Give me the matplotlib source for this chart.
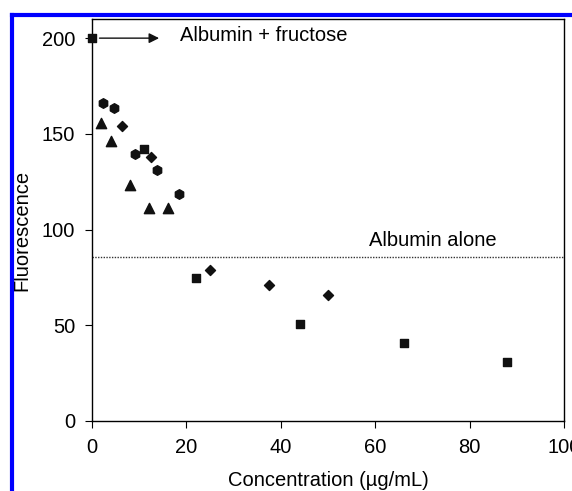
import matplotlib
matplotlib.use("Agg")
import matplotlib.pyplot as plt
from matplotlib.lines import Line2D

plt.rcParams['font.family'] = ['Liberation Sans', 'DejaVu Sans']

# fluorescence vs concentration, four sample series
sq_x = [0, 11, 22, 44, 66, 88]
sq_y = [200, 142, 74.6, 50.7, 40.9, 31.0]
dm_x = [6.25, 12.5, 25, 37.5, 50]
dm_y = [154, 137.7, 78.8, 70.9, 66.0]
ci_x = [2.3, 4.6, 9.2, 13.8, 18.4]
ci_y = [165.9, 163.7, 139.3, 131.1, 118.4]
tr_x = [2, 4, 8, 12, 16]
tr_y = [155.8, 146.4, 123.2, 111.1, 111.1]
albumin_alone = 85.5

fig = plt.figure(figsize=(5.72, 4.91), dpi=100)
ax = fig.add_axes([92 / 572, (491 - 421) / 491, (564 - 92) / 572, (421 - 19) / 491])

ax.scatter(sq_x, sq_y, marker='s', s=40, color='#111111', zorder=3, clip_on=False)
ax.scatter(dm_x, dm_y, marker='D', s=26, color='#111111', zorder=3)
ax.scatter(ci_x, ci_y, marker='h', s=48, color='#111111', zorder=3)
ax.scatter(tr_x, tr_y, marker='^', s=55, color='#111111', zorder=3)

ax.axhline(albumin_alone, color='#333333', lw=1, ls=(0, (1, 1)))
ax.text(72.3, 91.4, 'Albumin alone', fontsize=14.5, ha='center', va='baseline')

ax.annotate('', xy=(14.8, 200), xytext=(1.0, 200),
            arrowprops=dict(arrowstyle='-|>', color='#111111', lw=1, mutation_scale=15))
ax.text(18.6, 198.4, 'Albumin + fructose', fontsize=14.5, va='baseline')

ax.set_xlim(0, 100)
ax.set_ylim(0, 210)
ax.set_xticks([0, 20, 40, 60, 80, 100])
ax.set_yticks([0, 50, 100, 150, 200])
ax.tick_params(direction='out', length=5, labelsize=14.5, pad=7)
for sp in ax.spines.values():
    sp.set_linewidth(1)
ax.set_xlabel('Concentration (\u00b5g/mL)', fontsize=14.5, labelpad=10)
ax.set_ylabel('Fluorescence', fontsize=14.5)
ax.yaxis.set_label_coords((31 - 92) / 472, (421 - 230) / 402)

# blue frame from the original page
fig.add_artist(Line2D([12 / 572, 12 / 572], [0, (491 - 15) / 491], color='blue', lw=3))
fig.add_artist(Line2D([12 / 572, 1], [(491 - 15) / 491, (491 - 15) / 491], color='blue', lw=3))

fig.savefig('out.png', dpi=100)
